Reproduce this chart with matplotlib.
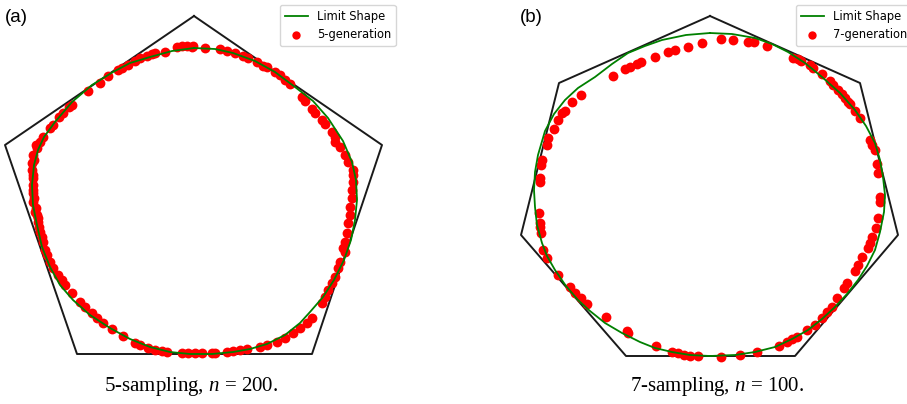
import numpy as np
import matplotlib
matplotlib.use("Agg")
import matplotlib.pyplot as plt

# all coordinates (image pixel frame, y down)
pentagon = [(194, 16), (382, 145), (312, 354), (77, 354), (5, 145), (194, 16)]
heptagon = [(710, 16), (860, 83), (898, 235), (795, 356), (626, 356),
            (521, 235), (559, 83), (710, 16)]

limit_a = [(194, 48), (215, 49), (233, 53), (255, 61), (275, 72), (295, 87),
           (313, 101), (328, 118), (343, 141), (352, 162), (356, 180),
           (357, 200), (355, 220), (351, 240), (344, 260), (334, 280),
           (323, 297), (310, 312), (300, 323), (285, 335), (267, 344),
           (250, 349), (233, 352), (212, 354), (190, 354), (170, 352),
           (150, 347), (130, 339), (110, 328), (90, 315), (73, 300), (60, 285),
           (50, 267), (42, 247), (37, 225), (33, 205), (32, 185), (34, 165),
           (38, 150), (44, 137), (55, 122), (72, 102), (92, 85), (113, 72),
           (130, 63), (150, 57), (172, 51), (194, 48)]

limit_b = [(710, 33), (732, 34), (755, 38), (772, 44), (788, 52), (805, 63),
           (822, 77), (840, 93), (855, 110), (866, 126), (875, 143),
           (880, 160), (883, 177), (885, 195), (884, 212), (880, 232),
           (875, 250), (867, 266), (858, 280), (847, 294), (835, 307),
           (822, 319), (808, 330), (792, 339), (775, 347), (755, 352),
           (735, 355), (710, 356), (690, 355), (672, 352), (655, 348),
           (640, 342), (622, 333), (605, 323), (590, 311), (578, 300),
           (566, 286), (555, 270), (547, 256), (542, 243), (537, 225),
           (535, 207), (534, 190), (535, 172), (538, 155), (545, 131),
           (554, 114), (565, 100), (578, 88), (595, 77), (612, 64), (628, 53),
           (645, 46), (662, 40), (686, 35), (710, 33)]

gen5 = [(43, 137), (50, 128), (53, 125), (59, 117), (63, 113), (69, 107),
        (72, 105), (88, 91), (100, 83), (108, 76), (118, 70), (122, 68),
        (128, 65), (135, 61), (140, 58), (147, 56), (152, 54), (155, 53),
        (165, 52), (177, 47), (182, 46), (187, 46), (192, 47), (193, 46),
        (205, 48), (220, 49), (227, 51), (235, 53), (243, 56), (248, 58),
        (257, 62), (263, 66), (267, 67), (275, 72), (280, 75), (285, 80),
        (290, 84), (302, 97), (305, 101), (312, 109), (315, 113), (322, 120),
        (325, 124), (332, 132), (335, 137),
        (40, 142), (36, 145), (37, 148), (33, 155), (34, 160), (32, 163),
        (32, 170), (33, 175), (33, 178), (33, 185), (33, 190), (33, 193),
        (34, 198), (33, 202), (36, 208), (35, 212), (37, 215), (38, 218),
        (38, 222), (39, 227), (40, 232), (42, 237), (43, 242), (45, 250),
        (335, 142), (340, 147), (345, 155), (348, 162), (353, 170),
        (353, 175), (353, 182), (352, 190), (352, 198), (350, 207),
        (350, 215), (348, 223), (347, 233), (345, 242), (343, 248),
        (47, 255), (50, 262), (53, 268), (58, 275), (62, 280), (65, 285),
        (72, 293), (80, 302), (85, 307), (92, 313), (97, 318), (103, 323),
        (112, 329), (123, 336), (135, 343), (140, 345), (148, 348),
        (155, 350), (162, 351), (167, 352), (182, 353), (188, 353),
        (195, 353), (202, 353), (212, 353), (215, 353), (227, 352),
        (233, 351), (240, 350), (247, 349), (260, 347), (267, 345),
        (277, 342), (285, 338), (293, 333), (300, 328), (307, 323),
        (312, 318), (322, 303), (325, 297), (328, 290), (332, 283),
        (335, 277), (338, 268), (340, 262), (345, 252)]

gen7 = [(554, 129), (558, 120), (562, 113), (565, 111), (572, 102), (581, 95),
        (613, 76), (625, 69), (630, 67), (637, 64), (641, 62), (655, 57),
        (668, 52), (675, 50), (688, 47), (702, 43), (721, 39), (733, 40),
        (748, 42), (754, 42), (767, 46),
        (793, 58), (798, 59), (801, 61), (810, 65), (813, 68), (822, 74),
        (830, 81), (833, 85), (838, 90), (842, 94), (845, 98), (848, 102),
        (850, 104), (855, 111), (860, 118),
        (870, 140), (872, 145), (875, 150), (877, 164), (878, 173),
        (880, 197), (880, 202), (878, 218), (876, 228), (872, 237),
        (870, 243), (868, 248), (862, 257), (858, 265), (855, 271),
        (847, 283), (844, 288), (837, 298), (832, 307), (827, 312),
        (822, 318), (815, 325), (807, 330), (797, 337), (792, 339),
        (787, 342), (779, 346), (757, 352), (740, 355), (721, 357),
        (698, 356), (690, 356), (684, 355), (678, 353), (672, 352),
        (656, 346), (628, 333), (627, 331), (606, 317), (587, 304),
        (581, 298), (575, 293), (570, 287), (558, 275), (547, 258),
        (543, 250), (541, 233), (540, 227), (540, 223), (539, 213),
        (540, 182), (540, 178), (541, 165), (542, 160), (547, 145),
        (548, 138)]

panels = [
    dict(poly=pentagon, limit=limit_a, pts=gen5, label='5-generation',
         tag='(a)', tag_x=5, leg_x=280, xlim=(0, 453.5),
         caption='5-sampling, $n$ = 200.', cap_x=191),
    dict(poly=heptagon, limit=limit_b, pts=gen7, label='7-generation',
         tag='(b)', tag_x=520, leg_x=796, xlim=(453.5, 907),
         caption='7-sampling, $n$ = 100.', cap_x=717),
]

fig = plt.figure(figsize=(9.07, 4.04), dpi=100)
plt.rcParams['mathtext.fontset'] = 'custom'
plt.rcParams['mathtext.it'] = 'Liberation Serif:italic'
plt.rcParams['mathtext.rm'] = 'Liberation Serif'

for i, p in enumerate(panels):
    ax = fig.add_axes([0.5 * i, 0, 0.5, 1])
    poly = np.array(p['poly'])
    lim = np.array(p['limit'])
    pts = np.array(p['pts'])
    ax.plot(poly[:, 0], poly[:, 1], color='#1a1a1a', lw=1.4, zorder=1)
    ax.plot(lim[:, 0], lim[:, 1], color='green', lw=1.3, label='Limit Shape',
            zorder=3)
    ax.scatter(pts[:, 0], pts[:, 1], s=50, color='red', lw=0,
               label=p['label'], zorder=2)
    ax.set_xlim(*p['xlim'])
    ax.set_ylim(404, 0)
    ax.axis('off')
    ax.legend(loc='upper left', bbox_to_anchor=(p['leg_x'], 5),
              bbox_transform=ax.transData, borderaxespad=0,
              prop={'size': 8.3}, scatterpoints=1, markerscale=0.85)
    ax.text(p['tag_x'], 18, p['tag'], fontsize=13.5, va='center',
            family='Liberation Sans')
    ax.text(p['cap_x'], 387, p['caption'], fontsize=15, ha='center',
            va='center', family='Liberation Serif')

fig.savefig('out.png', dpi=100)
